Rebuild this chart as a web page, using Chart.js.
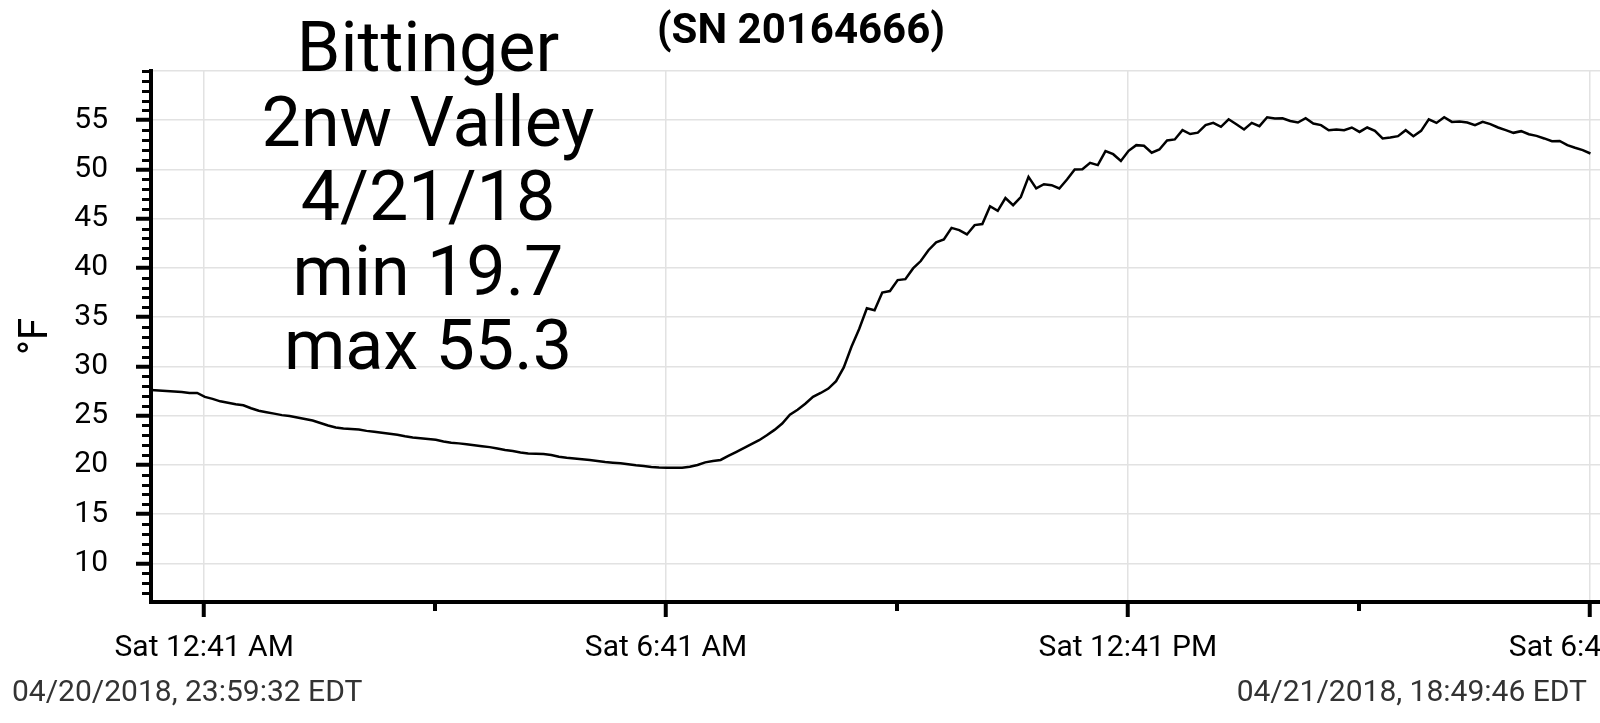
<!DOCTYPE html>
<html>
<head>
<meta charset="utf-8">
<script src="https://cdn.jsdelivr.net/npm/chart.js@4.4.1/dist/chart.umd.min.js"></script>
<style>
  html, body { margin:0; padding:0; background:#fff; overflow:hidden; width:1600px; height:723px; }
  #wrap { position:absolute; left:0; top:0; width:1700px; height:723px; }
  .txt { position:absolute; font-family: Roboto, "Noto Sans", sans-serif; white-space:pre; }
  #head { left:0; width:856px; top:10px; text-align:center; font-size:70px; line-height:74.5px; color:#000; }
  #sn { left:501px; width:600px; top:8px; text-align:center; font-size:42px; line-height:42px; font-weight:bold; color:#000; }
  #d1 { left:12px; top:676px; font-size:30px; line-height:30px; color:#333; }
  #d2 { left:987px; width:600px; top:676px; text-align:right; font-size:30px; line-height:30px; color:#333; }
</style>
</head>
<body>
<div id="wrap"><canvas id="c"></canvas></div>
<div class="txt" id="head">Bittinger
2nw Valley
4/21/18
min 19.7
max 55.3</div>
<div class="txt" id="sn">(SN 20164666)</div>
<div class="txt" id="d1">04/20/2018, 23:59:32 EDT</div>
<div class="txt" id="d2">04/21/2018, 18:49:46 EDT</div>
<script>
// ---- data ----
const startHour = -28 / 3600;                 // 04/20 23:59:32
const endHour = 18 + 49 / 60 + 46 / 3600;     // 04/21 18:49:46
const sampleMinutes = 6;
const majorTickHours = [41 / 60, 6 + 41 / 60, 12 + 41 / 60, 18 + 41 / 60];
const minorTickHours = [3 + 41 / 60, 9 + 41 / 60, 15 + 41 / 60];
const yTickValues = [10, 15, 20, 25, 30, 35, 40, 45, 50, 55, 60];
const yMin = 6.07, yMax = 60;
const temps = [
  27.6, 27.55, 27.5, 27.45, 27.4, 27.3, 27.3, 26.9, 26.7, 26.45,
  26.3, 26.15, 26.05, 25.75, 25.5, 25.35, 25.2, 25.05, 24.95, 24.8,
  24.65, 24.5, 24.25, 24.0, 23.8, 23.7, 23.65, 23.6, 23.45, 23.35,
  23.25, 23.15, 23.05, 22.9, 22.78, 22.7, 22.62, 22.55, 22.38, 22.25,
  22.18, 22.1, 22.0, 21.9, 21.8, 21.65, 21.5, 21.4, 21.25, 21.15,
  21.12, 21.1, 21.0, 20.82, 20.72, 20.65, 20.58, 20.5, 20.4, 20.3,
  20.22, 20.15, 20.05, 19.95, 19.88, 19.78, 19.72, 19.7, 19.7, 19.7,
  19.8, 19.98, 20.25, 20.4, 20.5, 20.9, 21.3, 21.7, 22.1, 22.5,
  23.0, 23.55, 24.2, 25.1, 25.6, 26.2, 26.9, 27.3, 27.75, 28.5,
  29.9, 32.0, 33.8, 35.9, 35.7, 37.5, 37.65, 38.76, 38.86, 39.95,
  40.7, 41.8, 42.6, 42.9, 44.07, 43.84, 43.4, 44.35, 44.45, 46.27,
  45.8, 47.1, 46.37, 47.2, 49.25, 48.07, 48.5, 48.4, 48.07, 48.98,
  50.0, 50.03, 50.67, 50.44, 51.86, 51.55, 50.87, 51.89, 52.47, 52.4,
  51.7, 52.03, 52.95, 53.05, 53.99, 53.6, 53.74, 54.5, 54.73, 54.33,
  55.1, 54.6, 54.06, 54.73, 54.4, 55.3, 55.18, 55.2, 54.93, 54.77,
  55.2, 54.67, 54.5, 53.99, 54.06, 53.99, 54.26, 53.81, 54.26, 53.92,
  53.15, 53.25, 53.38, 53.99, 53.38, 53.92, 55.1, 54.73, 55.3, 54.83,
  54.87, 54.77, 54.5, 54.83, 54.6, 54.26, 53.99, 53.72, 53.89, 53.58,
  53.41, 53.15, 52.87, 52.9, 52.47, 52.2, 51.96, 51.62
];

// sample times from the logger schedule
const points = temps.map((v, i) => ({ x: startHour + i * sampleMinutes / 60, y: v }));

function fmtTime(h) {
  const tot = Math.round(h * 60);
  const hh = Math.floor(tot / 60), mm = tot % 60;
  const ap = hh < 12 ? 'AM' : 'PM';
  const h12 = hh % 12 === 0 ? 12 : hh % 12;
  return 'Sat ' + h12 + ':' + String(mm).padStart(2, '0') + ' ' + ap;
}

const minorTicks = {
  id: 'minorTicks',
  afterDraw(chart) {
    const { ctx, chartArea, scales: { x, y } } = chart;
    ctx.save();
    ctx.strokeStyle = '#000';
    ctx.lineWidth = 4;
    minorTickHours.forEach(h => {
      const px = Math.round(x.getPixelForValue(h));
      ctx.beginPath(); ctx.moveTo(px, chartArea.bottom); ctx.lineTo(px, chartArea.bottom + 9); ctx.stroke();
    });
    ctx.lineWidth = 3;
    for (let v = Math.ceil(y.min); v <= y.max; v++) {
      if (yTickValues.includes(v) && v !== 60) continue;
      const py = Math.round(y.getPixelForValue(v)) + 0.5;
      ctx.beginPath(); ctx.moveTo(chartArea.left - 9, py); ctx.lineTo(chartArea.left, py); ctx.stroke();
    }
    ctx.restore();
  }
};

Chart.defaults.font.family = 'Roboto';
new Chart(document.getElementById('c'), {
  type: 'line',
  data: { datasets: [{ data: points, borderColor: '#000', borderWidth: 2.5, pointRadius: 0, tension: 0, fill: false }] },
  options: {
    responsive: true, maintainAspectRatio: false, animation: false, devicePixelRatio: 1,
    layout: { padding: { left: 0, top: 71, right: 99, bottom: 56 } },
    plugins: { legend: { display: false }, tooltip: { enabled: false } },
    scales: {
      x: {
        type: 'linear', min: startHour, max: endHour,
        afterBuildTicks: s => { s.ticks = majorTickHours.map(v => ({ value: v })); },
        afterFit: s => { s.height = 65; },
        ticks: { callback: v => fmtTime(v), font: { size: 30 }, color: '#000', padding: 13, maxRotation: 0, autoSkip: false },
        grid: { color: '#e2e2e2', lineWidth: 1.5, tickColor: '#000', tickWidth: 4, tickLength: 15 },
        border: { color: '#000', width: 4 }
      },
      y: {
        min: yMin, max: yMax,
        afterBuildTicks: s => { s.ticks = yTickValues.map(v => ({ value: v })); },
        afterFit: s => { s.width = 151; },
        ticks: { callback: v => (v === 60 ? '' : String(v)), font: { size: 30 }, color: '#000', padding: 28 },
        grid: { color: '#e2e2e2', lineWidth: 1.5,
                tickColor: c => (c.tick && c.tick.value === 60 ? 'rgba(0,0,0,0)' : '#000'),
                tickWidth: 4, tickLength: 15 },
        border: { color: '#000', width: 4 },
        title: { display: true, text: '°F', font: { size: 40 }, color: '#000', padding: { top: 13, bottom: 0 } }
      }
    }
  },
  plugins: [minorTicks]
});
</script>
</body>
</html>
